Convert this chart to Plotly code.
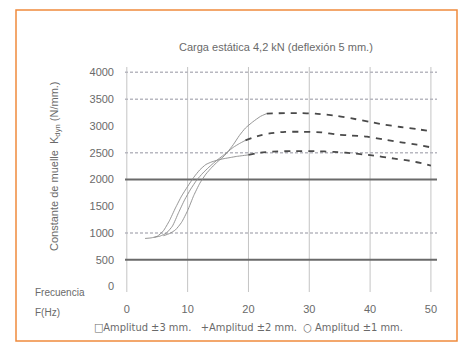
import plotly.graph_objects as go

# Dynamic spring constant vs. frequency, static load 4.2 kN
labels = ["Amplitud ±3 mm.", "Amplitud ±2 mm.", "Amplitud ±1 mm."]
symbols = ["square-open", "cross-thin-open", "circle-open"]
symbol_sizes = [8, 11, 12]

# Rising (low-frequency) part of each curve
rise_f = [
    [6, 7, 8, 9, 10, 11, 12, 13, 14, 15, 16, 16.6, 17.5, 18.5, 19.5, 20.7, 22, 23],
    [4.5, 5.5, 6.5, 7.5, 8.5, 9.5, 10.5, 11.5, 12.5, 13.5, 14.5, 15.5, 16.6, 17.5, 18.5, 19.5],
    [3, 4, 5, 6, 7, 8, 9, 10, 11, 12, 13, 14, 15, 16, 17, 18, 19, 20],
]
rise_k = [
    [950, 990, 1060, 1200, 1420, 1700, 1930, 2100, 2230, 2340, 2440, 2517, 2650, 2820, 2960, 3075, 3180, 3230],
    [920, 945, 1000, 1130, 1380, 1620, 1820, 1990, 2120, 2230, 2330, 2420, 2517, 2600, 2670, 2730],
    [900, 910, 940, 1040, 1230, 1470, 1690, 1870, 2040, 2180, 2280, 2330, 2365, 2390, 2410, 2430, 2445, 2460],
]

# Plateau (high-frequency) part of each curve
flat_f = [
    [23, 26, 28, 31, 34.5, 37, 40, 42, 45, 48, 50],
    [19.5, 21.5, 23.5, 26, 29, 32, 34.5, 37, 39.5, 42.8, 45.4, 47.7, 50],
    [20, 22, 24, 27, 31, 34, 36, 40, 44, 46.5, 49, 50],
]
flat_k = [
    [3230, 3240, 3240, 3230, 3190, 3140, 3075, 3030, 2980, 2935, 2900],
    [2730, 2810, 2860, 2890, 2890, 2880, 2840, 2820, 2800, 2735, 2690, 2650, 2600],
    [2460, 2500, 2520, 2530, 2530, 2515, 2500, 2455, 2390, 2350, 2290, 2260],
]

x_ticks = [0, 10, 20, 30, 40, 50]
y_ticks = [0, 500, 1000, 1500, 2000, 2500, 3000, 3500, 4000]
heavy_grid = [500, 2000]
light_grid = [1000, 2500, 3500, 4000]

X_RANGE = [-0.3, 51]
Y_RANGE = [-100, 4100]

W, H = 460, 343
ML, MR, MT, MB = 125, 23, 67, 51
PW, PH = W - ML - MR, H - MT - MB


def px(xp):
    return (xp - ML) / PW


def py(yp):
    return (H - MB - yp) / PH


TXT = "#6a6a6a"
FONT = "Liberation Sans, Arial, sans-serif"

fig = go.Figure()

for i in range(3):
    fig.add_trace(go.Scatter(
        x=rise_f[i], y=rise_k[i], mode="lines",
        line=dict(color="#8a8a8a", width=0.9, shape="spline", smoothing=0.5),
        showlegend=False, hoverinfo="skip"))
    fig.add_trace(go.Scatter(
        x=flat_f[i], y=flat_k[i], mode="lines",
        line=dict(color="#4a4a4a", width=1.8, dash="6px,6px", shape="spline", smoothing=0.6),
        showlegend=False, hoverinfo="skip"))
    fig.add_trace(go.Scatter(
        x=[flat_f[i][-1] + 1.1], y=[flat_k[i][-1]], mode="markers",
        marker=dict(symbol=symbols[i], size=symbol_sizes[i], color="#9a9a9a",
                    line=dict(color="#9a9a9a", width=1)),
        cliponaxis=False, showlegend=False, hoverinfo="skip"))

shapes = []
for xv in x_ticks:
    shapes.append(dict(type="line", xref="x", yref="y", x0=xv, x1=xv,
                       y0=Y_RANGE[0], y1=Y_RANGE[1],
                       line=dict(color="#c4c4c4", width=1), layer="below"))
for yv in light_grid:
    shapes.append(dict(type="line", xref="x", yref="y", x0=X_RANGE[0], x1=X_RANGE[1],
                       y0=yv, y1=yv, line=dict(color="#b8b8c0", width=1.5, dash="3px,2px"),
                       layer="below"))
for yv in heavy_grid:
    shapes.append(dict(type="line", xref="x", yref="y", x0=X_RANGE[0], x1=X_RANGE[1],
                       y0=yv, y1=yv, line=dict(color="#6a6a6a", width=2),
                       layer="below"))
# orange frame around the figure
shapes.append(dict(type="rect", xref="paper", yref="paper",
                   x0=px(16), x1=px(457), y0=py(341), y1=py(10),
                   line=dict(color="#f08a3c", width=1.5)))

annotations = [
    dict(text="Carga estática 4,2 kN (deflexión 5 mm.)", x=px(276), y=py(47),
         font=dict(size=11, color=TXT, family=FONT)),
    dict(text="Constante de muelle  K<sub>dyn</sub> (N/mm.)", x=px(55), y=py(166),
         textangle=-90, font=dict(size=11, color=TXT, family=FONT)),
    dict(text="Frecuencia", x=px(33), y=py(292), xanchor="left",
         font=dict(size=10, color=TXT, family=FONT)),
    dict(text="F(Hz)", x=px(33), y=py(312), xanchor="left",
         font=dict(size=10, color=TXT, family=FONT)),
    dict(text="□Amplitud ±3 mm.   +Amplitud ±2 mm.  ○ Amplitud ±1 mm.",
         x=px(248), y=py(327),
         font=dict(size=11, color=TXT, family="DejaVu Sans Condensed, Liberation Sans, sans-serif")),
]
for a in annotations:
    a.setdefault("xanchor", "center")
    a.update(xref="paper", yref="paper", showarrow=False, yanchor="middle")

fig.update_layout(
    width=W, height=H,
    margin=dict(l=ML, r=MR, t=MT, b=MB),
    paper_bgcolor="white", plot_bgcolor="white",
    shapes=shapes, annotations=annotations,
    xaxis=dict(range=X_RANGE, tickvals=x_ticks, showgrid=False, zeroline=False,
               showline=False, ticks="", ticklabelstandoff=9,
               tickfont=dict(size=11, color=TXT, family=FONT)),
    yaxis=dict(range=Y_RANGE, tickvals=y_ticks, showgrid=False, zeroline=False,
               showline=False, ticks="", ticklabelstandoff=10,
               tickfont=dict(size=11, color=TXT, family=FONT)),
)

fig.write_html("out.html")
